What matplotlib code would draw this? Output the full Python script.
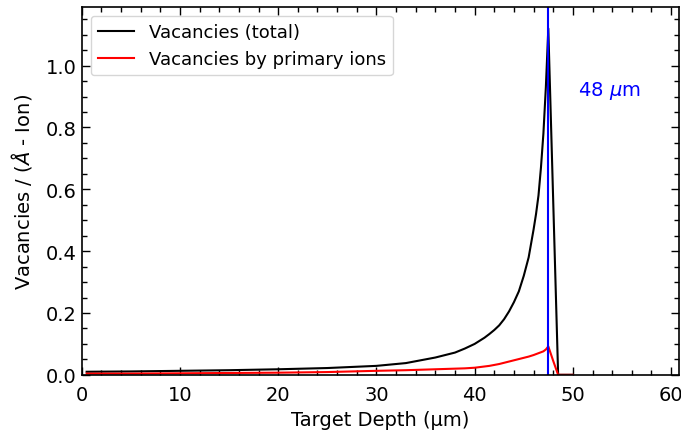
import matplotlib
matplotlib.use('Agg')
import matplotlib.pyplot as plt
from matplotlib.ticker import MultipleLocator

# depth bins (um) and vacancy yields read from the SRIM output
depth = [0.5, 5, 10, 15, 20, 25, 30, 33, 36, 38, 39, 40, 40.5, 41, 41.5, 42,
         42.5, 43, 43.5, 44, 44.5, 45, 45.5, 46, 46.25, 46.5, 46.75, 47,
         47.25, 47.5, 48, 48.5, 49, 50]
vac_total = [0.010, 0.011, 0.013, 0.015, 0.018, 0.022, 0.029, 0.038, 0.056,
             0.072, 0.085, 0.100, 0.110, 0.120, 0.132, 0.145, 0.160, 0.180,
             0.205, 0.235, 0.270, 0.320, 0.380, 0.470, 0.520, 0.580, 0.670,
             0.780, 0.930, 1.120, 0.560, 0.0, 0.0, 0.0]
vac_primary = [0.004, 0.004, 0.005, 0.006, 0.007, 0.009, 0.013, 0.015, 0.018,
               0.020, 0.021, 0.023, 0.025, 0.027, 0.029, 0.032, 0.035, 0.039,
               0.043, 0.047, 0.051, 0.055, 0.059, 0.064, 0.067, 0.070, 0.073,
               0.076, 0.082, 0.092, 0.045, 0.0, 0.0, 0.0]
ion_range = 47.5

fig = plt.figure(figsize=(6.81, 4.35), dpi=100)
ax = fig.add_axes([0.120, 0.136, 0.877, 0.846])

ax.plot(depth, vac_total, color='k', lw=1.5, label='Vacancies (total)')
ax.plot(depth, vac_primary, color='r', lw=1.5, label='Vacancies by primary ions')
ax.axvline(ion_range, color='b', lw=1.5)
ax.text(50.5, 0.92, r'48 $\mu$m', color='b', fontsize=14, va='center')

ax.set_xlim(0, 60.8)
ax.set_ylim(0, 1.19)
ax.xaxis.set_major_locator(MultipleLocator(10))
ax.xaxis.set_minor_locator(MultipleLocator(2))
ax.yaxis.set_major_locator(MultipleLocator(0.2))
ax.yaxis.set_minor_locator(MultipleLocator(0.05))
ax.tick_params(which='both', direction='in', top=True, right=True, labelsize=14)
ax.tick_params(axis='x', which='both', pad=7.5)
ax.tick_params(which='major', length=6, width=1)
ax.tick_params(which='minor', length=3.5, width=1)
for s in ax.spines.values():
    s.set_linewidth(1.2)

ax.set_xlabel('Target Depth (μm)', fontsize=14)
ax.set_ylabel(r'Vacancies / ($\AA$ - Ion)', fontsize=14, labelpad=8.5)
ax.legend(loc='upper left', fontsize=13, handlelength=2.0)

fig.savefig('out.png', dpi=100)
